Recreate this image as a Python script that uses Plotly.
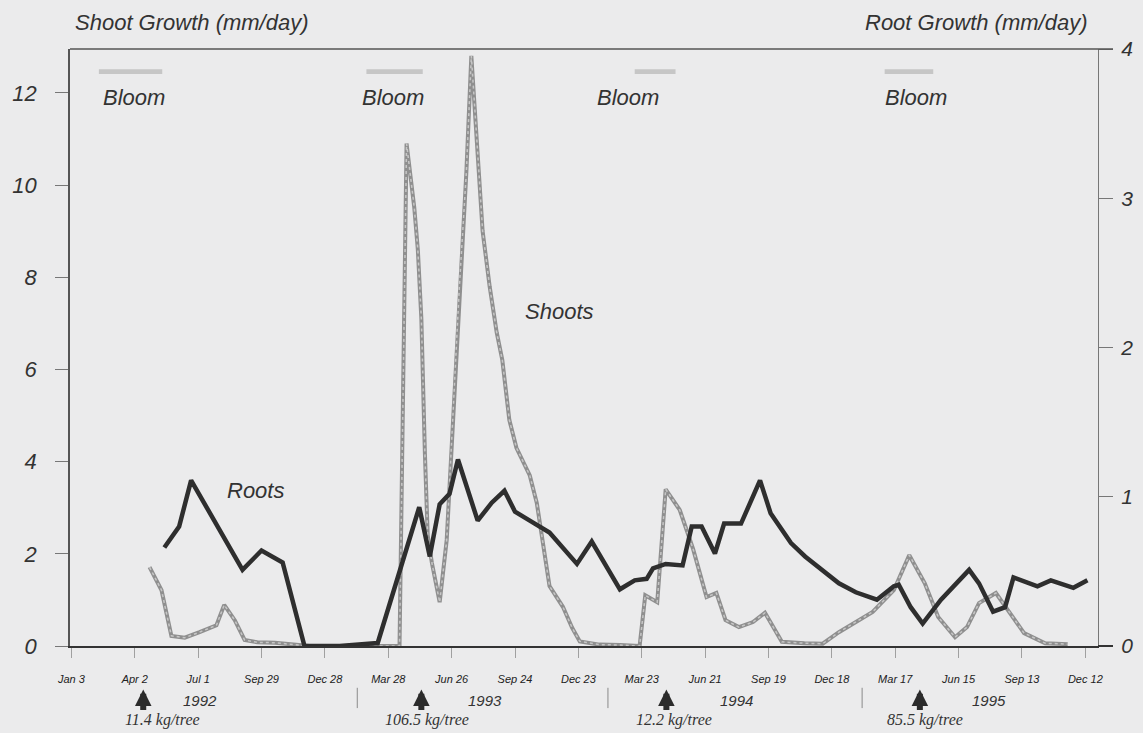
import plotly.graph_objects as go
import pandas as pd

# ---- Shoot growth (mm/day), left axis ----
shoot_dates = [
    "1992-04-23", "1992-05-10", "1992-05-24", "1992-06-12", "1992-07-03", "1992-07-27",
    "1992-08-07", "1992-08-22", "1992-09-05", "1992-09-23", "1992-10-18", "1992-11-12",
    "1992-12-06", "1993-01-18", "1993-03-01", "1993-04-13", "1993-04-23", "1993-05-04",
    "1993-05-09", "1993-05-14", "1993-05-19", "1993-05-23", "1993-05-29", "1993-06-09",
    "1993-06-19", "1993-06-28", "1993-07-07", "1993-07-17", "1993-07-24", "1993-08-02",
    "1993-08-09", "1993-08-19", "1993-08-29", "1993-09-06", "1993-09-16", "1993-09-26",
    "1993-10-15", "1993-10-25", "1993-11-01", "1993-11-12", "1993-12-01", "1993-12-14",
    "1993-12-25", "1994-01-22", "1994-02-20", "1994-03-20", "1994-03-28", "1994-04-14",
    "1994-04-26", "1994-05-16", "1994-06-04", "1994-06-23", "1994-07-07", "1994-07-20",
    "1994-08-08", "1994-08-28", "1994-09-14", "1994-09-26", "1994-10-08", "1994-11-09",
    "1994-12-05", "1994-12-28", "1995-02-14", "1995-03-16", "1995-04-07", "1995-04-29",
    "1995-05-18", "1995-06-11", "1995-06-28", "1995-07-15", "1995-08-08", "1995-08-25",
    "1995-09-17", "1995-10-17", "1995-11-18",
]
shoot_growth = [
    1.71, 1.21, 0.22, 0.18, 0.30, 0.45,
    0.89, 0.56, 0.13, 0.08, 0.07, 0.04,
    0.0, 0.0, 0.0, 0.0, 10.9, 9.5,
    8.6, 7.1, 4.2, 2.4, 1.8, 0.95,
    2.3, 4.9, 7.8, 10.3, 12.8, 10.7,
    9.0, 7.8, 6.8, 6.2, 4.9, 4.3,
    3.7, 3.1, 2.4, 1.3, 0.85, 0.4,
    0.1, 0.03, 0.02, 0.0, 1.1, 0.95,
    3.4, 2.95, 2.1, 1.06, 1.15, 0.56,
    0.41, 0.52, 0.72, 0.39, 0.09, 0.06,
    0.05, 0.3, 0.74, 1.21, 1.97, 1.36,
    0.63, 0.19, 0.41, 0.93, 1.15, 0.78,
    0.28, 0.06, 0.04,
]

# ---- Root growth (mm/day), right axis ----
root_dates = [
    "1992-05-14", "1992-06-04", "1992-06-21", "1992-09-02", "1992-09-29", "1992-10-29",
    "1992-11-29", "1993-01-18", "1993-03-13", "1993-04-02", "1993-05-11", "1993-05-26",
    "1993-06-09", "1993-06-23", "1993-07-05", "1993-08-02", "1993-08-22", "1993-09-09",
    "1993-09-24", "1993-10-15", "1993-11-12", "1993-12-21", "1994-01-11", "1994-02-20",
    "1994-03-13", "1994-03-30", "1994-04-08", "1994-04-26", "1994-05-20", "1994-06-02",
    "1994-06-16", "1994-07-05", "1994-07-18", "1994-08-11", "1994-09-07", "1994-09-22",
    "1994-10-21", "1994-11-10", "1994-12-04", "1994-12-28", "1995-01-21", "1995-02-20",
    "1995-03-16", "1995-03-23", "1995-04-09", "1995-04-26", "1995-05-22", "1995-07-01",
    "1995-07-15", "1995-08-04", "1995-08-21", "1995-09-02", "1995-10-06", "1995-10-25",
    "1995-11-26", "1995-12-16",
]
root_growth = [
    0.66, 0.80, 1.11, 0.51, 0.64, 0.56,
    0.0, 0.0, 0.02, 0.33, 0.93, 0.60,
    0.95, 1.02, 1.25, 0.84, 0.96, 1.04,
    0.90, 0.84, 0.76, 0.55, 0.70, 0.38,
    0.44, 0.45, 0.52, 0.55, 0.54, 0.80,
    0.80, 0.62, 0.82, 0.82, 1.11, 0.89,
    0.69, 0.60, 0.51, 0.42, 0.36, 0.31,
    0.40, 0.41, 0.26, 0.15, 0.31, 0.51,
    0.42, 0.23, 0.26, 0.46, 0.40, 0.44,
    0.39, 0.44,
]

# ---- Axis ticks ----
tick_dates = pd.date_range("1992-01-03", periods=17, freq="90D")
tick_labels = ["Jan 3", "Apr 2", "Jul 1", "Sep 29", "Dec 28", "Mar 28", "Jun 26", "Sep 24",
               "Dec 23", "Mar 23", "Jun 21", "Sep 19", "Dec 18", "Mar 17", "Jun 15",
               "Sep 13", "Dec 12"]
left_ticks = [0, 2, 4, 6, 8, 10, 12]
right_ticks = [0, 1, 2, 3, 4]

# ---- Bloom periods, crop loads and years ----
bloom_start = ["1992-02-11", "1993-02-25", "1994-03-13", "1995-03-03"]
bloom_end = ["1992-05-11", "1993-05-16", "1994-05-10", "1995-05-11"]
bloom_label_dates = ["1992-04-01", "1993-04-04", "1994-03-03", "1995-04-16"]
crop_dates = ["1992-04-14", "1993-05-14", "1994-04-27", "1995-04-22"]
crop_labels = ["11.4 kg/tree", "106.5 kg/tree", "12.2 kg/tree", "85.5 kg/tree"]
crop_label_dates = ["1992-05-12", "1993-05-22", "1994-05-08", "1995-04-29"]
year_labels = ["1992", "1993", "1994", "1995"]
year_label_dates = ["1992-07-04", "1993-08-12", "1994-08-04", "1995-07-29"]
year_breaks = ["1993-02-12", "1994-02-03", "1995-01-30"]

BG = "#ebebec"
TXT = "#333333"
FONT = "Liberation Sans, Arial, sans-serif"
SERIF = "Liberation Serif, Times New Roman, serif"

fig = go.Figure()

# shoots: grey line with a lighter dotted texture on top
fig.add_trace(go.Scatter(x=shoot_dates, y=shoot_growth, mode="lines",
                         line=dict(color="#8f8f8f", width=4), yaxis="y",
                         showlegend=False, hoverinfo="skip"))
fig.add_trace(go.Scatter(x=shoot_dates, y=shoot_growth, mode="lines",
                         line=dict(color="#c6c6c6", width=1.5, dash="dot"), yaxis="y",
                         showlegend=False, name="Shoots"))
# roots: heavy dark line on the right axis
fig.add_trace(go.Scatter(x=root_dates, y=root_growth, mode="lines",
                         line=dict(color="#2e2e2e", width=4.5), yaxis="y2",
                         showlegend=False, name="Roots"))

shapes = []
annotations = []

# frame top line and axis extensions past the right edge
shapes.append(dict(type="line", xref="paper", yref="paper", x0=0, x1=1.0146, y0=1, y1=1,
                   line=dict(color="#555555", width=1.5)))
shapes.append(dict(type="line", xref="paper", yref="paper", x0=1, x1=1.0146, y0=0, y1=0,
                   line=dict(color="#333333", width=2)))


def label(x, y, text, size, xref="x", family=FONT, xanchor="center"):
    return dict(x=x, y=y, xref=xref, yref="paper", text=f"<i>{text}</i>", showarrow=False,
                xanchor=xanchor, yanchor="middle", font=dict(size=size, color=TXT, family=family))


for s, e, d in zip(bloom_start, bloom_end, bloom_label_dates):
    shapes.append(dict(type="rect", xref="x", yref="paper", x0=s, x1=e, y0=0.958, y1=0.966,
                       fillcolor="#c6c6c6", line=dict(width=0)))
    annotations.append(label(d, 0.918, "Bloom", 22))

for d in year_breaks:
    shapes.append(dict(type="line", xref="x", yref="paper", x0=d, x1=d, y0=-0.070, y1=-0.104,
                       line=dict(color="#8a8a8a", width=1)))

for d, lab, ld in zip(crop_dates, crop_labels, crop_label_dates):
    annotations.append(dict(x=d, y=-0.073, xref="x", yref="paper", ax=0, ay=22, text="",
                            showarrow=True, arrowhead=2, arrowsize=0.55, arrowwidth=6,
                            arrowcolor="#2b2b2b"))
    annotations.append(label(ld, -0.124, lab, 16, family=SERIF))

for d, lab in zip(year_label_dates, year_labels):
    annotations.append(label(d, -0.0905, lab, 15))

annotations += [
    label(0.003, 1.0436, "Shoot Growth (mm/day)", 22, xref="paper", xanchor="left"),
    label(0.992, 1.0436, "Root Growth (mm/day)", 22, xref="paper", xanchor="right"),
    label(0.18, 0.261, "Roots", 22, xref="paper"),
    label(0.476, 0.561, "Shoots", 22, xref="paper"),
]

fig.update_layout(
    width=1143, height=733,
    margin=dict(l=70, r=45, t=49, b=87, autoexpand=False),
    paper_bgcolor=BG, plot_bgcolor=BG,
    font=dict(family=FONT, color=TXT),
    showlegend=False,
    xaxis=dict(type="date", range=["1992-01-01", "1995-12-31"],
               tickvals=list(tick_dates), ticktext=[f"<i>{t}</i>" for t in tick_labels],
               tickfont=dict(size=11, color="#222222"), ticks="outside", ticklen=10,
               tickcolor="#a0a0a0", ticklabelstandoff=12, automargin=False,
               showline=True, linecolor="#333333", linewidth=2, showgrid=False, zeroline=False),
    yaxis=dict(range=[0, 12.95], tickvals=left_ticks, ticktext=[f"<i>{v}</i>" for v in left_ticks],
               tickfont=dict(size=22, color=TXT), ticks="outside", ticklen=13, tickcolor="#777777",
               ticklabelstandoff=14, automargin=False, showline=True, linecolor="#555555",
               linewidth=1.5, showgrid=False, zeroline=False),
    yaxis2=dict(range=[0, 4], overlaying="y", side="right", tickvals=right_ticks,
                ticktext=[f"<i>{v}</i>" for v in right_ticks],
                tickfont=dict(size=21, color=TXT), ticks="outside", ticklen=14, tickcolor="#777777",
                ticklabelstandoff=4, automargin=False, showline=True, linecolor="#777777",
                linewidth=1.2, showgrid=False, zeroline=False),
    shapes=shapes,
    annotations=annotations,
)

fig.write_html("out.html")
